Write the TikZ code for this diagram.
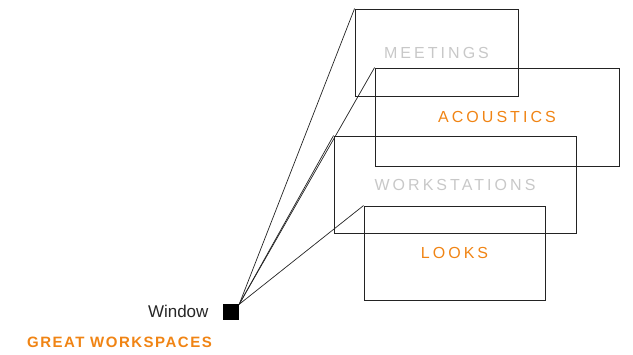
\documentclass[tikz,border=0pt]{standalone}
\usepackage{fontspec}
\setmainfont{Liberation Sans}
\usetikzlibrary{calc}

\definecolor{wsorange}{RGB}{240,132,20}
\definecolor{wsgrey}{RGB}{200,200,200}
\definecolor{wsline}{RGB}{35,35,35}

\begin{document}
\begin{tikzpicture}[x=1pt, y=-1pt,
    area/.style={draw=wsline, line width=0.9pt, rectangle, inner sep=0pt,
      font=\fontsize{16}{18}\selectfont\addfontfeatures{LetterSpace=19}},
    faded/.style={text=wsgrey},
    hot/.style={text=wsorange},
    ray/.style={draw=wsline, line width=0.7pt}]
          \useasboundingbox (0,0) rectangle (633,355);

          % the window and its title
          \node[fill=black, minimum size=16pt, inner sep=0pt] (win) at (231,312.5) {};
          \node[anchor=east, font=\fontsize{17}{19}\selectfont, text=black!85] (wintxt) at (212,311) {Window};
          \node[anchor=west, inner sep=0pt, text=wsorange,
            font=\fontsize{15}{17}\selectfont\bfseries\addfontfeatures{LetterSpace=10}] (title) at (27,342) {GREAT WORKSPACES};

          % the four areas
          \node[area, faded, minimum width=163pt, minimum height=87pt] (meet) at (436.5,52.5) {MEETINGS};
          \node[area, hot, minimum width=244pt, minimum height=98pt] (acou) at (497,117) {ACOUSTICS};
          \node[area, faded, minimum width=242pt, minimum height=97pt] (work) at (455,184.5) {WORKSTATIONS};
          \node[area, hot, minimum width=181pt, minimum height=94pt] (looks) at (454.5,253) {LOOKS};

          % rays from the window
          \draw[ray] (win.north east) -- (meet.north west);
          \draw[ray] (win.north east) -- (acou.north west);
          \draw[ray] (win.north east) -- (work.north west);
          \draw[ray] (win.north east) -- (looks.north west);

        \end{tikzpicture}
\end{document}
